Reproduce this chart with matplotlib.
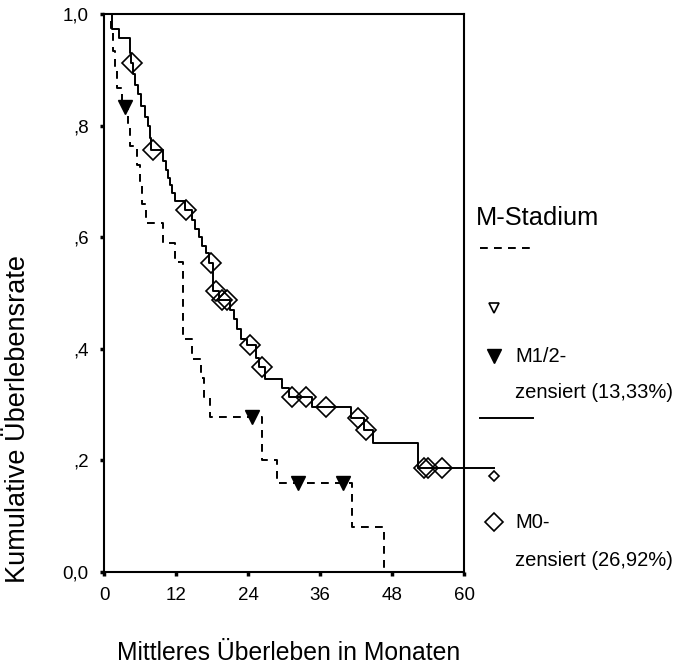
import numpy as np
import matplotlib
matplotlib.use("Agg")
import matplotlib.pyplot as plt

plt.rcParams['font.family'] = ['Liberation Sans', 'DejaVu Sans']

# M0 curve (solid): drop times (months) and survival after each drop
m0_times = [1.4, 2.5, 4.3, 4.45, 4.8, 5.2, 5.7, 6.2, 6.8, 7.3, 7.6, 7.9,
            9.9, 10.4, 10.7, 11.0, 11.4, 11.8, 13.5, 14.6, 15.2, 15.8, 16.4,
            17.0, 17.5, 18.2, 19.2, 21.0, 21.6, 22.2, 22.8, 23.8, 25.4, 25.8,
            26.8, 29.6, 30.8, 34.6, 41.2, 43.4, 44.9, 52.4]
m0_surv = [0.974, 0.957, 0.93, 0.912, 0.893, 0.873, 0.856, 0.835, 0.815, 0.80,
           0.778, 0.756, 0.737, 0.72, 0.706, 0.693, 0.679, 0.664, 0.649, 0.631,
           0.615, 0.60, 0.585, 0.572, 0.553, 0.503, 0.487, 0.47, 0.453, 0.435,
           0.418, 0.407, 0.384, 0.368, 0.345, 0.329, 0.314, 0.296, 0.276, 0.254,
           0.231, 0.186]
m0_last = 65.0
m0_censored = [4.6, 8.2, 13.7, 17.8, 18.6, 19.6, 20.5, 24.4, 26.3, 31.3, 33.6,
               37.0, 42.3, 43.7, 53.3, 54.0, 56.3]

# M1/2 curve (dashed)
m12_times = [1.2, 1.5, 1.8, 2.2, 3.0, 4.0, 4.4, 5.5, 6.0, 6.4, 7.0, 9.9, 11.8,
             13.2, 14.7, 16.2, 16.7, 17.6, 26.4, 28.8, 41.4, 46.6]
m12_surv = [0.967, 0.933, 0.9, 0.867, 0.833, 0.799, 0.764, 0.729, 0.694, 0.66,
            0.625, 0.59, 0.556, 0.417, 0.382, 0.347, 0.313, 0.278, 0.2, 0.16,
            0.08, 0.0]
m12_censored = [3.5, 24.6, 32.4, 39.8]

x_ticks = [0, 12, 24, 36, 48, 60]
y_ticks = [0.0, 0.2, 0.4, 0.6, 0.8, 1.0]
y_labels = ['0,0', ',2', ',4', ',6', ',8', '1,0']


def surv_at(times, surv, t):
    i = np.searchsorted(times, t, side='right')
    return 1.0 if i == 0 else surv[i - 1]


fig = plt.figure(figsize=(6.76, 6.69), dpi=100)
ax = fig.add_axes([104 / 676, 1 - 572 / 669, 360 / 676, 558 / 669])

dash = (0, (4, 3.2))

# dashed M1/2 curve
xs = [0] + m12_times
ys = [1.0] + m12_surv
ax.step(xs, ys, where='post', color='black', lw=1.4, linestyle=dash)
cy = [surv_at(m12_times, m12_surv, t) for t in m12_censored]
ax.plot(m12_censored, cy, 'v', color='black', ms=10, zorder=4)

# solid M0 curve, runs on past the right edge
xs = [0] + m0_times + [m0_last]
ys = [1.0] + m0_surv + [m0_surv[-1]]
ax.step(xs, ys, where='post', color='black', lw=1.4, clip_on=False)
cy = [surv_at(m0_times, m0_surv, t) for t in m0_censored]
ax.plot(m0_censored, cy, 'D', mfc='none', mec='black', mew=1.2, ms=10, zorder=4)

ax.set_xlim(0, 60)
ax.set_ylim(0, 1.0)
ax.set_xticks(x_ticks)
ax.set_xticklabels([str(v) for v in x_ticks])
ax.set_yticks(y_ticks)
ax.set_yticklabels(y_labels)
ax.tick_params(direction='out', length=3, width=2.5, labelsize=13.5, pad=8)
for s in ax.spines.values():
    s.set_linewidth(1.5)

fig.text(289 / 676, 1 - 653 / 669, 'Mittleres Überleben in Monaten',
         ha='center', va='center', fontsize=17.8)
fig.text(18 / 676, 1 - 419 / 669, 'Kumulative Überlebensrate',
         ha='center', va='center', rotation=90, fontsize=19.5)

# legend drawn in pixel space
lg = fig.add_axes([0, 0, 1, 1], zorder=-1)
lg.set_xlim(0, 676)
lg.set_ylim(669, 0)
lg.axis('off')
lg.text(476, 218, 'M-Stadium', ha='left', va='center', fontsize=18.3)
lg.plot([480, 533], [248, 248], color='black', lw=1.4, linestyle=dash)
lg.plot([494], [308], 'v', mfc='none', mec='black', mew=1.2, ms=6.5)
lg.plot([494], [356], 'v', color='black', ms=10)
lg.text(515, 357, 'M1/2-', ha='left', va='center', fontsize=14.5)
lg.text(515, 393, 'zensiert (13,33%)', ha='left', va='center', fontsize=14.5)
lg.plot([480, 533], [418, 418], color='black', lw=1.4)
lg.plot([494], [476], 'D', mfc='none', mec='black', mew=1.2, ms=5.5)
lg.plot([494], [522], 'D', mfc='none', mec='black', mew=1.2, ms=9.5)
lg.text(515, 523, 'M0-', ha='left', va='center', fontsize=14.5)
lg.text(515, 560, 'zensiert (26,92%)', ha='left', va='center', fontsize=14.5)

fig.savefig('out.png', dpi=100)
